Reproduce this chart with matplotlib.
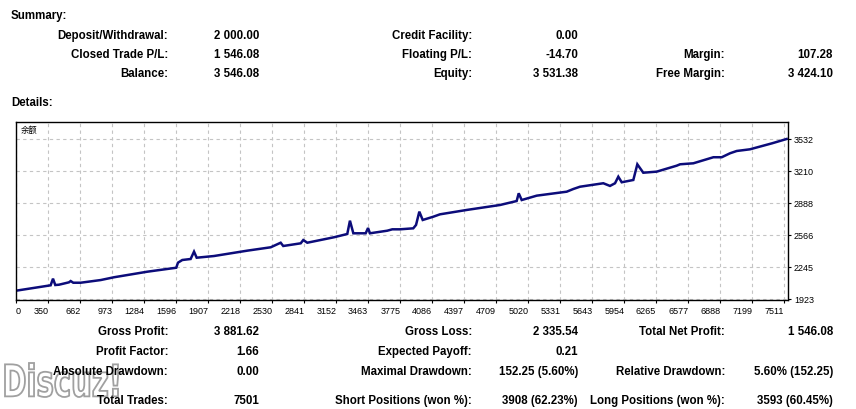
import matplotlib
matplotlib.use("Agg")
import matplotlib.pyplot as plt
from matplotlib.textpath import TextPath
from matplotlib.patches import PathPatch
from matplotlib.font_manager import FontProperties
from matplotlib.transforms import Affine2D

W, H = 856, 409

# equity curve (trade number, balance)
trade = [38, 373, 396, 418, 454, 551, 568, 593, 665, 860, 989, 1313, 1595, 1612, 1654,
         1735, 1768, 1794, 1962, 2286, 2514, 2611, 2636, 2806, 2831, 2870, 3130, 3259, 3285, 3318,
         3438, 3461, 3480, 3648, 3697, 3772, 3901, 3928, 3960, 3993, 4096, 4161, 4421, 4745, 4907,
         4927, 4956, 5102, 5394, 5458, 5523, 5750, 5815, 5864, 5896, 5929, 6042, 6081, 6139, 6270,
         6464, 6497, 6626, 6821, 6902, 6983, 7048, 7177, 7394, 7534]
balance = [2007, 2061, 2128, 2064, 2067, 2091, 2104, 2087, 2087, 2114, 2142, 2198, 2238, 2289, 2316,
           2326, 2400, 2339, 2356, 2410, 2444, 2490, 2457, 2484, 2517, 2490, 2545, 2578, 2712, 2585,
           2585, 2638, 2585, 2611, 2625, 2625, 2635, 2669, 2803, 2719, 2752, 2776, 2820, 2870, 2910,
           2988, 2920, 2964, 3004, 3031, 3054, 3089, 3062, 3089, 3155, 3099, 3122, 3280, 3195, 3206,
           3266, 3280, 3290, 3351, 3351, 3391, 3414, 3431, 3492, 3535]

x_ticks = [350, 662, 973, 1284, 1596, 1907, 2218, 2530, 2841, 3152, 3463, 3775, 4086, 4397,
           4709, 5020, 5331, 5643, 5954, 6265, 6577, 6888, 7199, 7511]
y_ticks = [1923, 2245, 2566, 2888, 3210, 3532]

summary_rows = [
    [("Deposit/Withdrawal:", "2 000.00"), ("Credit Facility:", "0.00"), None],
    [("Closed Trade P/L:", "1 546.08"), ("Floating P/L:", "-14.70"), ("Margin:", "107.28")],
    [("Balance:", "3 546.08"), ("Equity:", "3 531.38"), ("Free Margin:", "3 424.10")],
]
detail_rows = [
    [("Gross Profit:", "3 881.62"), ("Gross Loss:", "2 335.54"), ("Total Net Profit:", "1 546.08")],
    [("Profit Factor:", "1.66"), ("Expected Payoff:", "0.21"), None],
    [("Absolute Drawdown:", "0.00"), ("Maximal Drawdown:", "152.25 (5.60%)"),
     ("Relative Drawdown:", "5.60% (152.25)")],
    [("Total Trades:", "7501"), ("Short Positions (won %):", "3908 (62.23%)"),
     ("Long Positions (won %):", "3593 (60.45%)")],
]

plt.rcParams['font.family'] = ['Liberation Sans', 'Noto Sans CJK SC', 'DejaVu Sans']

fig = plt.figure(figsize=(W / 100, H / 100), dpi=100)
fig.patch.set_facecolor("white")

# watermark, squeezed into the box it covers in the picture (pixels)
tp = TextPath((0, 0), "Discuz!", size=1, prop=FontProperties(family="DejaVu Sans", weight="bold"))
bb = tp.get_extents()
wm_tr = (Affine2D().translate(-bb.x0, -bb.y0)
         .scale(113 / bb.width, 34 / bb.height)
         .translate(5, H - 397))
fig.add_artist(PathPatch(tp, transform=wm_tr, facecolor="white", edgecolor="#a0a0a0",
                         lw=1.3, zorder=1))


def px(x, y, s, **kw):
    fig.text(x / W, 1 - y / H, s, va="center", zorder=5, **kw)


label_right = [168, 472, 725]
value_right = [259, 578, 833]
fs = 8.3

px(11, 16, "Summary:", fontsize=fs, fontweight="bold")
for row, y in zip(summary_rows, [36, 55, 74]):
    for col, cell in enumerate(row):
        if cell is None:
            continue
        px(label_right[col], y, cell[0], ha="right", fontsize=fs, fontweight="bold")
        px(value_right[col], y, cell[1], ha="right", fontsize=fs, fontweight="bold")

px(11, 103, "Details:", fontsize=fs, fontweight="bold")
for row, y in zip(detail_rows, [332, 352, 372, 401]):
    for col, cell in enumerate(row):
        if cell is None:
            continue
        px(label_right[col], y, cell[0], ha="right", fontsize=fs, fontweight="bold")
        px(value_right[col], y, cell[1], ha="right", fontsize=fs, fontweight="bold")

# chart
ax = fig.add_axes([16 / W, 1 - 300.3 / H, (787.7 - 16) / W, (300.3 - 121.5) / H])
ax.plot(trade, balance, color="#0c0c7a", lw=1.8, solid_joinstyle="miter")
ax.set_xlim(36, 7544)
ax.set_ylim(1910, 3711)

ax.set_xticks([36] + x_ticks)
ax.set_xticklabels(["0"] + [str(v) for v in x_ticks], fontsize=6.5)
for i, lab in enumerate(ax.get_xticklabels()):
    lab.set_ha("left" if i == 0 else "right")
ax.set_yticks(y_ticks)
ax.set_yticklabels([str(v) for v in y_ticks], fontsize=6.5)
ax.yaxis.tick_right()
ax.tick_params(axis="both", length=2.5, width=0.8, pad=2, color="black")

ax.grid(True, color="#c4c4c4", linestyle=(0, (3, 3)), linewidth=0.8)
ax.set_axisbelow(True)
for sp in ax.spines.values():
    sp.set_linewidth(1.0)
    sp.set_color("black")

ax.text(20.7 / W, 1 - 130 / H, "余额", transform=fig.transFigure, fontsize=6,
        family=["Noto Sans CJK SC", "DejaVu Sans"], va="center")

fig.savefig("out.png", dpi=100)
